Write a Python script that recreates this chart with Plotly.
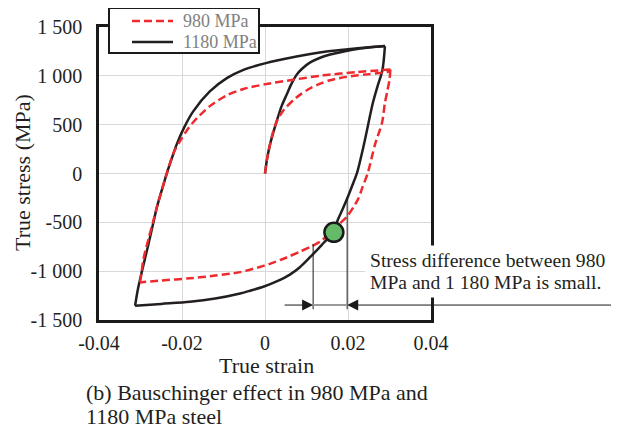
import plotly.graph_objects as go

# ---------------- data ----------------
# 1180 MPa steel, three branches of the loop
s1180_load_x = [0, 0.0005, 0.0012, 0.002, 0.0028, 0.004, 0.0052, 0.0064, 0.0076, 0.009, 0.0108, 0.013, 0.0157,
                0.019, 0.0222, 0.0255, 0.0289]
s1180_load_y = [0, 150, 296, 420, 534, 690, 806, 920, 1010, 1075, 1135, 1180, 1218, 1250, 1275, 1292, 1305]
s1180_unload_x = [0.0289, 0.0283, 0.0271, 0.026, 0.025, 0.0241, 0.0232, 0.0222, 0.0211, 0.02, 0.0188, 0.0176,
                  0.0164, 0.0137, 0.0108, 0.0084, 0.006, 0.0028, -0.0004, -0.0036, -0.006, -0.012, -0.0181,
                  -0.025, -0.0313]
s1180_unload_y = [1305, 1061, 890, 724, 530, 347, 180, 10, -115, -235, -355, -469,
                  -602, -730, -860, -960, -1035, -1105, -1160, -1200, -1228, -1280, -1314,
                  -1335, -1354]
s1180_reload_x = [-0.0313, -0.0307, -0.0301, -0.0292, -0.0282, -0.0271, -0.026, -0.0248, -0.0236, -0.0225,
                  -0.0213, -0.0195, -0.0173, -0.0133, -0.0092, -0.0052, 0.0002, 0.0076, 0.014, 0.02, 0.025, 0.0289]
s1180_reload_y = [-1354, -1200, -1082, -920, -745, -540, -337, -160, 10, 150,
                  296, 470, 636, 840, 976, 1061, 1130, 1197, 1245, 1272, 1292, 1305]

# 980 MPa steel, three branches of the loop
s980_load_x = [0, 0.0005, 0.0012, 0.0019, 0.0029, 0.0045, 0.0068, 0.0084, 0.0108, 0.0133, 0.0157, 0.0181,
               0.0215, 0.0246, 0.0275, 0.0296, 0.0302]
s980_load_y = [0, 150, 296, 420, 540, 650, 750, 805, 870, 920, 955, 978, 1000, 1015, 1030, 1041, 1065]
s980_unload_x = [0.0302, 0.0300, 0.0295, 0.0289, 0.0282, 0.0265, 0.0248, 0.0235, 0.0224, 0.0198, 0.0181, 0.0164,
                 0.0135, 0.011, 0.0084, 0.0052, 0.0012, -0.0004, -0.006, -0.012, -0.0181, -0.025, -0.0301]
s980_unload_y = [1065, 960, 850, 724, 520, 296, 10, -140, -265, -439, -510, -580,
                 -690, -750, -800, -860, -925, -946, -1010, -1045, -1073, -1095, -1115]
s980_reload_x = [-0.0301, -0.0297, -0.0293, -0.0281, -0.027, -0.026, -0.0248, -0.0236, -0.022, -0.0205, -0.019,
                 -0.0173, -0.0133, -0.0092, -0.0052, 0.0002, 0.0068, 0.014, 0.0222, 0.0302]
s980_reload_y = [-1115, -1000, -878, -673, -500, -337, -160, 10, 215, 330, 430,
                 525, 690, 800, 865, 915, 960, 1005, 1038, 1065]

series_names = ["980 MPa", "1180 MPa"]
series_colors = ["#ee2a2e", "#231f20"]

# highlighted crossing point
point_strain = [0.0166]
point_stress = [-602]

# annotation of the strain gap
gap_strain = [0.0116, 0.0198]
gap_top_stress = [-724, -250]
gap_arrow_stress = -1347
gap_bottom_stress = -1390

x_tickvals = [-0.04, -0.02, 0, 0.02, 0.04]
x_ticktext = ["-0.04", "-0.02", "0", "0.02", "0.04"]
y_tickvals = [-1500, -1000, -500, 0, 500, 1000, 1500]
y_ticktext = ["-1 500", "-1 000", "-500", "0", "500", "1 000", "1 500"]

note_lines = ["Stress difference between 980", "MPa and 1 180 MPa is small."]
caption_lines = ["(b) Bauschinger effect in 980 MPa and", "1180 MPa steel"]
x_title = "True strain"
y_title = "True stress (MPa)"

FONT = "Liberation Serif"
PW, PH = 332, 293  # plot area size in px
DASH = "8px,4px"


def px_x(X):
    return (X - 99) / PW


def px_y(Y):
    return (320 - Y) / PH


fig = go.Figure()
for xs, ys in [(s1180_load_x, s1180_load_y), (s1180_unload_x, s1180_unload_y), (s1180_reload_x, s1180_reload_y)]:
    fig.add_trace(go.Scatter(x=xs, y=ys, mode="lines", name=series_names[1], showlegend=False,
                             line=dict(color=series_colors[1], width=2.5, shape="spline", smoothing=0.8)))
for xs, ys in [(s980_load_x, s980_load_y), (s980_unload_x, s980_unload_y), (s980_reload_x, s980_reload_y)]:
    fig.add_trace(go.Scatter(x=xs, y=ys, mode="lines", name=series_names[0], showlegend=False,
                             line=dict(color=series_colors[0], width=2.5, dash=DASH, shape="spline",
                                       smoothing=0.8)))
fig.add_trace(go.Scatter(x=point_strain, y=point_stress, mode="markers", showlegend=False,
                         marker=dict(size=19, color="#66bb6a", line=dict(color="#1a1a1a", width=2.5))))

shapes = []
# vertical guide lines and gray gap
for xs, yt in zip(gap_strain, gap_top_stress):
    shapes.append(dict(type="line", x0=xs, x1=xs, y0=yt, y1=gap_bottom_stress, xref="x", yref="y",
                       line=dict(color="#1a1a1a", width=1)))
shapes.append(dict(type="line", x0=gap_strain[0], x1=gap_strain[1], y0=gap_arrow_stress, y1=gap_arrow_stress,
                   xref="x", yref="y", line=dict(color="#9a9a9a", width=2)))

# custom legend box
shapes.append(dict(type="rect", xref="paper", yref="paper", x0=px_x(109), x1=px_x(259), y0=px_y(53), y1=px_y(8),
                   fillcolor="white", line=dict(color="#1a1a1a", width=2), layer="above"))
legend_rows = [21, 42]
legend_dash = [DASH, "solid"]
for col, dash, yrow in zip(series_colors, legend_dash, legend_rows):
    shapes.append(dict(type="line", xref="paper", yref="paper", x0=px_x(132), x1=px_x(173),
                       y0=px_y(yrow), y1=px_y(yrow), layer="above",
                       line=dict(color=col, width=2.5, dash=dash)))

annotations = []
for name, yrow in zip(series_names, legend_rows):
    annotations.append(dict(x=px_x(181), y=px_y(yrow), xref="paper", yref="paper", xanchor="left",
                            yanchor="middle", text=name, showarrow=False,
                            font=dict(family=FONT, size=18, color="#808080")))
# arrows
annotations.append(dict(x=gap_strain[0], y=gap_arrow_stress, xref="x", yref="y", ax=-30, ay=0,
                        text="", showarrow=True, arrowhead=2, arrowsize=2.2, arrowwidth=1, arrowcolor="#1a1a1a"))
annotations.append(dict(x=gap_strain[1], y=gap_arrow_stress, xref="x", yref="y", ax=272, ay=0,
                        text="", showarrow=True, arrowhead=2, arrowsize=2.2, arrowwidth=1, arrowcolor="#1a1a1a"))
# note text
for txt, ypx in zip(note_lines, [260, 282]):
    annotations.append(dict(x=px_x(365), y=px_y(ypx), xref="paper", yref="paper", xanchor="left", yanchor="middle",
                            text=txt, showarrow=False, bgcolor="white", borderpad=4,
                            font=dict(family=FONT, size=19.6, color="#231f20")))
# axis titles
annotations.append(dict(x=px_x(266), y=px_y(365), xref="paper", yref="paper",
                        xanchor="center", yanchor="middle", text=x_title, showarrow=False,
                        font=dict(family=FONT, size=22, color="#231f20")))
annotations.append(dict(x=px_x(22), y=px_y(173), xref="paper", yref="paper",
                        xanchor="center", yanchor="middle", text=y_title, showarrow=False, textangle=-90,
                        font=dict(family=FONT, size=22, color="#231f20")))
# caption
for txt, ypx in zip(caption_lines, [392, 416]):
    annotations.append(dict(x=px_x(84), y=px_y(ypx), xref="paper", yref="paper",
                            xanchor="left", yanchor="middle", text=txt, showarrow=False,
                            font=dict(family=FONT, size=22, color="#231f20")))

# the page body adds an 8 px offset, so the figure is 8 px smaller and margins shifted
fig.update_layout(
    width=611, height=421,
    margin=dict(l=91, r=188, t=19, b=109, autoexpand=False),
    paper_bgcolor="white", plot_bgcolor="white",
    font=dict(family=FONT, size=20, color="#231f20"),
    showlegend=False,
    shapes=shapes,
    annotations=annotations,
)
fig.update_xaxes(range=[-0.04, 0.04], tickvals=x_tickvals, ticktext=x_ticktext,
                 showgrid=True, gridcolor="#d9d9d9", gridwidth=1, zeroline=False,
                 showline=True, linecolor="#1a1a1a", linewidth=2.5, mirror=True, automargin=False,
                 ticks="", ticklabelstandoff=3, tickfont=dict(family=FONT, size=20))
fig.update_yaxes(range=[-1500, 1500], tickvals=y_tickvals, ticktext=y_ticktext,
                 showgrid=True, gridcolor="#d9d9d9", gridwidth=1, zeroline=False,
                 showline=True, linecolor="#1a1a1a", linewidth=2.5, mirror=True, automargin=False,
                 ticks="", ticklabelstandoff=10, tickfont=dict(family=FONT, size=20))

fig.write_html("out.html")
